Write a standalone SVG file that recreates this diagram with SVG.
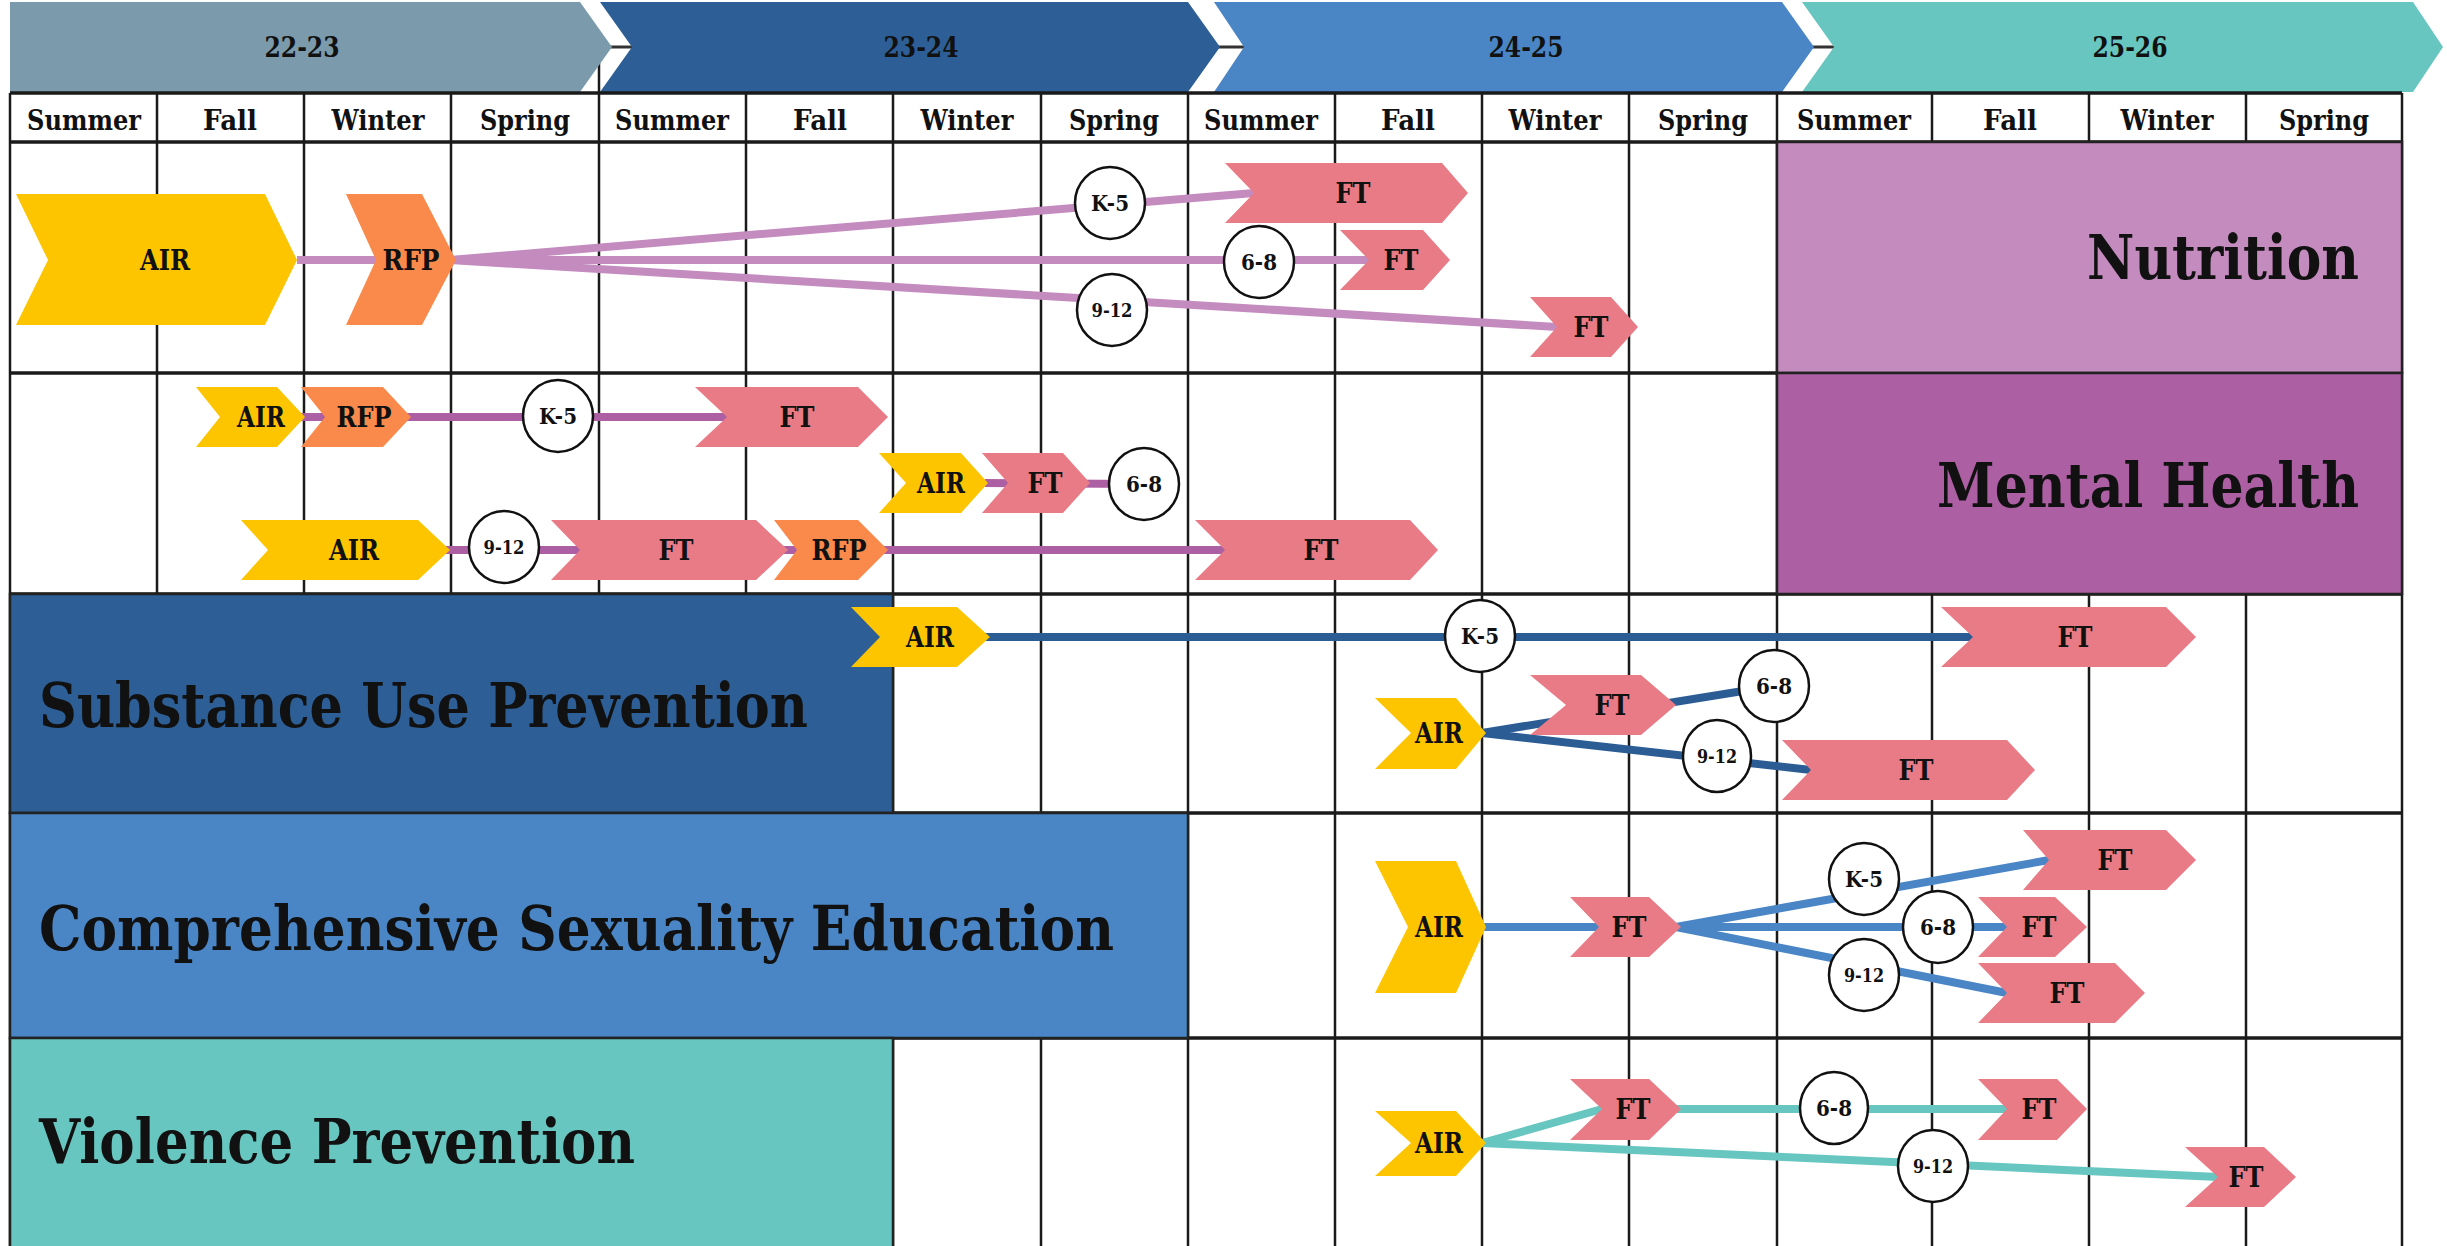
<svg xmlns="http://www.w3.org/2000/svg" width="2447" height="1246" viewBox="0 0 2447 1246">
<style>
.bg{fill:#ffffff}
.grid{stroke:#1a1a1a;stroke-width:2.5;fill:none}
.hgrid{stroke:#1a1a1a;stroke-width:3.5;fill:none}
.box{stroke:#222;stroke-width:2.5}
.t{font-family:"DejaVu Serif","Liberation Serif",serif;font-weight:bold;fill:#111}
.season{font-size:27px;text-anchor:middle}
.year{font-size:27px;text-anchor:middle}
.big{font-size:61px}
.lbl{font-size:27px;text-anchor:middle}
.cl{font-size:23px;text-anchor:middle}
.cs{font-size:19px;text-anchor:middle}
.air{fill:#FDC500}
.rfp{fill:#F98A4B}
.ft{fill:#E87B86}
.circ{fill:#ffffff;stroke:#111;stroke-width:2.5}
.c-nut{stroke:#C48BBE;stroke-width:8;fill:none}
.c-mh{stroke:#AD5FA3;stroke-width:8;fill:none}
.c-su{stroke:#2B5C94;stroke-width:8;fill:none}
.c-cse{stroke:#4A86C5;stroke-width:8;fill:none}
.c-vp{stroke:#67C6C0;stroke-width:8;fill:none}
</style>
<rect class="bg" x="0" y="0" width="2447" height="1246"/>

<!-- header -->
<g id="header">
  <line x1="580" y1="47" x2="2420" y2="47" stroke="#333" stroke-width="3"/>
  <line x1="599" y1="62" x2="599" y2="93" stroke="#1a1a1a" stroke-width="2.5"/>
  <polygon points="10,2 580,2 612,47 580,92 10,92" fill="#7B9BAD"/>
  <polygon points="600,2 1188,2 1220,47 1188,92 600,92 632,47" fill="#2D5F96"/>
  <polygon points="1214,2 1782,2 1814,47 1782,92 1214,92 1244,47" fill="#4A86C5"/>
  <polygon points="1802,2 2413,2 2443,47 2413,92 1802,92 1834,47" fill="#67C6C0"/>
  <text class="t year" x="302" y="57" textLength="75" lengthAdjust="spacingAndGlyphs">22-23</text>
  <text class="t year" x="921" y="57" textLength="75" lengthAdjust="spacingAndGlyphs">23-24</text>
  <text class="t year" x="1526" y="57" textLength="75" lengthAdjust="spacingAndGlyphs">24-25</text>
  <text class="t year" x="2130" y="57" textLength="75" lengthAdjust="spacingAndGlyphs">25-26</text>
</g>

<!-- grid -->
<g id="grid">
  <g class="grid">
    <line x1="10" y1="93" x2="10" y2="1246"/>
    <line x1="157" y1="93" x2="157" y2="1246"/>
    <line x1="304" y1="93" x2="304" y2="1246"/>
    <line x1="451" y1="93" x2="451" y2="1246"/>
    <line x1="599" y1="93" x2="599" y2="1246"/>
    <line x1="746" y1="93" x2="746" y2="1246"/>
    <line x1="893" y1="93" x2="893" y2="1246"/>
    <line x1="1041" y1="93" x2="1041" y2="1246"/>
    <line x1="1188" y1="93" x2="1188" y2="1246"/>
    <line x1="1335" y1="93" x2="1335" y2="1246"/>
    <line x1="1482" y1="93" x2="1482" y2="1246"/>
    <line x1="1629" y1="93" x2="1629" y2="1246"/>
    <line x1="1777" y1="93" x2="1777" y2="1246"/>
    <line x1="1932" y1="93" x2="1932" y2="1246"/>
    <line x1="2089" y1="93" x2="2089" y2="1246"/>
    <line x1="2246" y1="93" x2="2246" y2="1246"/>
    <line x1="2402" y1="93" x2="2402" y2="1246"/>
  </g>
  <g class="hgrid">
    <line x1="10" y1="93" x2="2402" y2="93"/>
    <line x1="10" y1="142" x2="2402" y2="142"/>
    <line x1="10" y1="373" x2="2402" y2="373"/>
    <line x1="10" y1="594" x2="2402" y2="594"/>
    <line x1="10" y1="813" x2="2402" y2="813"/>
    <line x1="10" y1="1038" x2="2402" y2="1038"/>
  </g>
  <g class="t season">
    <text x="84" y="130" textLength="114" lengthAdjust="spacingAndGlyphs">Summer</text>
    <text x="230" y="130" textLength="54" lengthAdjust="spacingAndGlyphs">Fall</text>
    <text x="378" y="130" textLength="93" lengthAdjust="spacingAndGlyphs">Winter</text>
    <text x="525" y="130" textLength="90" lengthAdjust="spacingAndGlyphs">Spring</text>
    <text x="672" y="130" textLength="114" lengthAdjust="spacingAndGlyphs">Summer</text>
    <text x="820" y="130" textLength="54" lengthAdjust="spacingAndGlyphs">Fall</text>
    <text x="967" y="130" textLength="93" lengthAdjust="spacingAndGlyphs">Winter</text>
    <text x="1114" y="130" textLength="90" lengthAdjust="spacingAndGlyphs">Spring</text>
    <text x="1261" y="130" textLength="114" lengthAdjust="spacingAndGlyphs">Summer</text>
    <text x="1408" y="130" textLength="54" lengthAdjust="spacingAndGlyphs">Fall</text>
    <text x="1555" y="130" textLength="93" lengthAdjust="spacingAndGlyphs">Winter</text>
    <text x="1703" y="130" textLength="90" lengthAdjust="spacingAndGlyphs">Spring</text>
    <text x="1854" y="130" textLength="114" lengthAdjust="spacingAndGlyphs">Summer</text>
    <text x="2010" y="130" textLength="54" lengthAdjust="spacingAndGlyphs">Fall</text>
    <text x="2167" y="130" textLength="93" lengthAdjust="spacingAndGlyphs">Winter</text>
    <text x="2324" y="130" textLength="90" lengthAdjust="spacingAndGlyphs">Spring</text>
  </g>
</g>

<!-- topic label boxes -->
<g id="label-nutrition">
  <rect class="box" x="1777" y="142" width="625" height="231" fill="#C48BBE"/>
  <text class="t big" x="2359" y="279" text-anchor="end" textLength="272" lengthAdjust="spacingAndGlyphs">Nutrition</text>
</g>
<g id="label-mental-health">
  <rect class="box" x="1777" y="373" width="625" height="221" fill="#AD5FA3"/>
  <text class="t big" x="2359" y="507" text-anchor="end" textLength="422" lengthAdjust="spacingAndGlyphs">Mental Health</text>
</g>
<g id="label-substance">
  <rect class="box" x="10" y="594" width="883" height="219" fill="#2D5F96"/>
  <text class="t big" x="39" y="727" textLength="769" lengthAdjust="spacingAndGlyphs">Substance Use Prevention</text>
</g>
<g id="label-cse">
  <rect class="box" x="10" y="813" width="1178" height="225" fill="#4A86C5"/>
  <text class="t big" x="39" y="950" textLength="1075" lengthAdjust="spacingAndGlyphs">Comprehensive Sexuality Education</text>
</g>
<g id="label-violence">
  <rect class="box" x="10" y="1038" width="883" height="210" fill="#67C6C0"/>
  <text class="t big" x="39" y="1163" textLength="596" lengthAdjust="spacingAndGlyphs">Violence Prevention</text>
</g>

<!-- connectors -->
<g id="connectors">
  <line class="c-nut" x1="297" y1="260" x2="376" y2="260"/>
  <line class="c-nut" x1="450" y1="260" x2="1254" y2="193"/>
  <line class="c-nut" x1="450" y1="260" x2="1369" y2="260"/>
  <line class="c-nut" x1="450" y1="260" x2="1557" y2="327"/>

  <line class="c-mh" x1="300" y1="417" x2="727" y2="417"/>
  <line class="c-mh" x1="985" y1="483" x2="1144" y2="484"/>
  <line class="c-mh" x1="445" y1="550" x2="1225" y2="550"/>

  <line class="c-su" x1="985" y1="637" x2="1973" y2="637"/>
  <line class="c-su" x1="1482" y1="733" x2="1774" y2="686"/>
  <line class="c-su" x1="1482" y1="733" x2="1811" y2="770"/>

  <line class="c-cse" x1="1482" y1="927" x2="1599" y2="927"/>
  <line class="c-cse" x1="1676" y1="927" x2="2049" y2="860"/>
  <line class="c-cse" x1="1676" y1="927" x2="2007" y2="927"/>
  <line class="c-cse" x1="1676" y1="927" x2="2007" y2="993"/>

  <line class="c-vp" x1="1482" y1="1143" x2="1602" y2="1109"/>
  <line class="c-vp" x1="1676" y1="1109" x2="2007" y2="1109"/>
  <line class="c-vp" x1="1482" y1="1143" x2="2218" y2="1177"/>
</g>

<!-- Nutrition nodes -->
<g id="nut-air"><polygon class="air" points="16,194 265,194 297,260 265,325 16,325 48,260"/><text class="t lbl" x="165" y="270" textLength="50" lengthAdjust="spacingAndGlyphs">AIR</text></g>
<g id="nut-rfp"><polygon class="rfp" points="346,194 422,194 456,260 422,325 346,325 376,260"/><text class="t lbl" x="411" y="270" textLength="57" lengthAdjust="spacingAndGlyphs">RFP</text></g>
<g id="nut-k5"><ellipse class="circ" cx="1110" cy="203" rx="35" ry="36"/><text class="t cl" x="1110" y="211" textLength="38" lengthAdjust="spacingAndGlyphs">K-5</text></g>
<g id="nut-68"><ellipse class="circ" cx="1259" cy="262" rx="35" ry="36"/><text class="t cl" x="1259" y="270" textLength="36" lengthAdjust="spacingAndGlyphs">6-8</text></g>
<g id="nut-912"><ellipse class="circ" cx="1112" cy="310" rx="35" ry="36"/><text class="t cs" x="1112" y="317" textLength="41" lengthAdjust="spacingAndGlyphs">9-12</text></g>
<g id="nut-ft-k5"><polygon class="ft" points="1225,163 1442,163 1468,193 1442,223 1225,223 1254,193"/><text class="t lbl" x="1353" y="203" textLength="35" lengthAdjust="spacingAndGlyphs">FT</text></g>
<g id="nut-ft-68"><polygon class="ft" points="1340,230 1423,230 1450,260 1423,290 1340,290 1369,260"/><text class="t lbl" x="1401" y="270" textLength="35" lengthAdjust="spacingAndGlyphs">FT</text></g>
<g id="nut-ft-912"><polygon class="ft" points="1530,297 1611,297 1638,327 1611,357 1530,357 1557,327"/><text class="t lbl" x="1591" y="337" textLength="35" lengthAdjust="spacingAndGlyphs">FT</text></g>

<!-- Mental Health nodes -->
<g id="mh-air-1"><polygon class="air" points="196,387 277,387 305,417 277,447 196,447 220,417"/><text class="t lbl" x="261" y="427" textLength="48" lengthAdjust="spacingAndGlyphs">AIR</text></g>
<g id="mh-rfp-1"><polygon class="rfp" points="301,387 383,387 411,417 383,447 301,447 325,417"/><text class="t lbl" x="364" y="427" textLength="55" lengthAdjust="spacingAndGlyphs">RFP</text></g>
<g id="mh-k5"><ellipse class="circ" cx="558" cy="416" rx="35" ry="36"/><text class="t cl" x="558" y="424" textLength="38" lengthAdjust="spacingAndGlyphs">K-5</text></g>
<g id="mh-ft-1"><polygon class="ft" points="695,387 858,387 888,417 858,447 695,447 727,417"/><text class="t lbl" x="797" y="427" textLength="35" lengthAdjust="spacingAndGlyphs">FT</text></g>
<g id="mh-air-2"><polygon class="air" points="879,453 961,453 988,483 961,513 879,513 906,483"/><text class="t lbl" x="941" y="493" textLength="48" lengthAdjust="spacingAndGlyphs">AIR</text></g>
<g id="mh-ft-2"><polygon class="ft" points="982,453 1063,453 1090,483 1063,513 982,513 1008,483"/><text class="t lbl" x="1045" y="493" textLength="35" lengthAdjust="spacingAndGlyphs">FT</text></g>
<g id="mh-68"><ellipse class="circ" cx="1144" cy="484" rx="35" ry="36"/><text class="t cl" x="1144" y="492" textLength="36" lengthAdjust="spacingAndGlyphs">6-8</text></g>
<g id="mh-air-3"><polygon class="air" points="241,520 418,520 450,550 418,580 241,580 268,550"/><text class="t lbl" x="354" y="560" textLength="50" lengthAdjust="spacingAndGlyphs">AIR</text></g>
<g id="mh-912"><ellipse class="circ" cx="504" cy="547" rx="35" ry="36"/><text class="t cs" x="504" y="554" textLength="41" lengthAdjust="spacingAndGlyphs">9-12</text></g>
<g id="mh-ft-3"><polygon class="ft" points="551,520 756,520 788,550 756,580 551,580 580,550"/><text class="t lbl" x="676" y="560" textLength="35" lengthAdjust="spacingAndGlyphs">FT</text></g>
<g id="mh-rfp-3"><polygon class="rfp" points="774,520 858,520 888,550 858,580 774,580 797,550"/><text class="t lbl" x="839" y="560" textLength="55" lengthAdjust="spacingAndGlyphs">RFP</text></g>
<g id="mh-ft-4"><polygon class="ft" points="1195,520 1410,520 1438,550 1410,580 1195,580 1225,550"/><text class="t lbl" x="1321" y="560" textLength="35" lengthAdjust="spacingAndGlyphs">FT</text></g>

<!-- Substance Use nodes -->
<g id="su-air-1"><polygon class="air" points="851,607 957,607 990,637 957,667 851,667 880,637"/><text class="t lbl" x="930" y="647" textLength="48" lengthAdjust="spacingAndGlyphs">AIR</text></g>
<g id="su-k5"><ellipse class="circ" cx="1480" cy="636" rx="35" ry="36"/><text class="t cl" x="1480" y="644" textLength="38" lengthAdjust="spacingAndGlyphs">K-5</text></g>
<g id="su-ft-1"><polygon class="ft" points="1941,607 2166,607 2196,637 2166,667 1941,667 1973,637"/><text class="t lbl" x="2075" y="647" textLength="35" lengthAdjust="spacingAndGlyphs">FT</text></g>
<g id="su-air-2"><polygon class="air" points="1375,698 1456,698 1486,733 1456,769 1375,769 1411,733"/><text class="t lbl" x="1439" y="743" textLength="48" lengthAdjust="spacingAndGlyphs">AIR</text></g>
<g id="su-ft-2"><polygon class="ft" points="1530,675 1641,675 1676,705 1641,735 1530,735 1566,705"/><text class="t lbl" x="1612" y="715" textLength="35" lengthAdjust="spacingAndGlyphs">FT</text></g>
<g id="su-68"><ellipse class="circ" cx="1774" cy="686" rx="35" ry="36"/><text class="t cl" x="1774" y="694" textLength="36" lengthAdjust="spacingAndGlyphs">6-8</text></g>
<g id="su-912"><ellipse class="circ" cx="1717" cy="756" rx="34" ry="36"/><text class="t cs" x="1717" y="763" textLength="40" lengthAdjust="spacingAndGlyphs">9-12</text></g>
<g id="su-ft-3"><polygon class="ft" points="1782,740 2007,740 2035,770 2007,800 1782,800 1811,770"/><text class="t lbl" x="1916" y="780" textLength="35" lengthAdjust="spacingAndGlyphs">FT</text></g>

<!-- CSE nodes -->
<g id="cse-air"><polygon class="air" points="1375,861 1456,861 1486,927 1456,993 1375,993 1408,927"/><text class="t lbl" x="1439" y="937" textLength="48" lengthAdjust="spacingAndGlyphs">AIR</text></g>
<g id="cse-ft"><polygon class="ft" points="1570,897 1649,897 1681,927 1649,957 1570,957 1599,927"/><text class="t lbl" x="1629" y="937" textLength="35" lengthAdjust="spacingAndGlyphs">FT</text></g>
<g id="cse-k5"><ellipse class="circ" cx="1864" cy="879" rx="35" ry="36"/><text class="t cl" x="1864" y="887" textLength="38" lengthAdjust="spacingAndGlyphs">K-5</text></g>
<g id="cse-68"><ellipse class="circ" cx="1938" cy="927" rx="35" ry="36"/><text class="t cl" x="1938" y="935" textLength="36" lengthAdjust="spacingAndGlyphs">6-8</text></g>
<g id="cse-912"><ellipse class="circ" cx="1864" cy="975" rx="35" ry="36"/><text class="t cs" x="1864" y="982" textLength="40" lengthAdjust="spacingAndGlyphs">9-12</text></g>
<g id="cse-ft-k5"><polygon class="ft" points="2023,830 2166,830 2196,860 2166,890 2023,890 2049,860"/><text class="t lbl" x="2115" y="870" textLength="35" lengthAdjust="spacingAndGlyphs">FT</text></g>
<g id="cse-ft-68"><polygon class="ft" points="1978,897 2055,897 2087,927 2055,957 1978,957 2007,927"/><text class="t lbl" x="2039" y="937" textLength="35" lengthAdjust="spacingAndGlyphs">FT</text></g>
<g id="cse-ft-912"><polygon class="ft" points="1978,963 2115,963 2145,993 2115,1023 1978,1023 2007,993"/><text class="t lbl" x="2067" y="1003" textLength="35" lengthAdjust="spacingAndGlyphs">FT</text></g>

<!-- Violence Prevention nodes -->
<g id="vp-air"><polygon class="air" points="1375,1111 1456,1111 1486,1143 1456,1176 1375,1176 1411,1143"/><text class="t lbl" x="1439" y="1153" textLength="48" lengthAdjust="spacingAndGlyphs">AIR</text></g>
<g id="vp-ft-1"><polygon class="ft" points="1570,1079 1649,1079 1681,1109 1649,1140 1570,1140 1602,1109"/><text class="t lbl" x="1633" y="1119" textLength="35" lengthAdjust="spacingAndGlyphs">FT</text></g>
<g id="vp-68"><ellipse class="circ" cx="1834" cy="1108" rx="34" ry="36"/><text class="t cl" x="1834" y="1116" textLength="36" lengthAdjust="spacingAndGlyphs">6-8</text></g>
<g id="vp-ft-2"><polygon class="ft" points="1978,1079 2057,1079 2087,1109 2057,1140 1978,1140 2007,1109"/><text class="t lbl" x="2039" y="1119" textLength="35" lengthAdjust="spacingAndGlyphs">FT</text></g>
<g id="vp-912"><ellipse class="circ" cx="1933" cy="1166" rx="35" ry="36"/><text class="t cs" x="1933" y="1173" textLength="40" lengthAdjust="spacingAndGlyphs">9-12</text></g>
<g id="vp-ft-3"><polygon class="ft" points="2185,1147 2264,1147 2296,1177 2264,1207 2185,1207 2218,1177"/><text class="t lbl" x="2246" y="1187" textLength="35" lengthAdjust="spacingAndGlyphs">FT</text></g>
</svg>
